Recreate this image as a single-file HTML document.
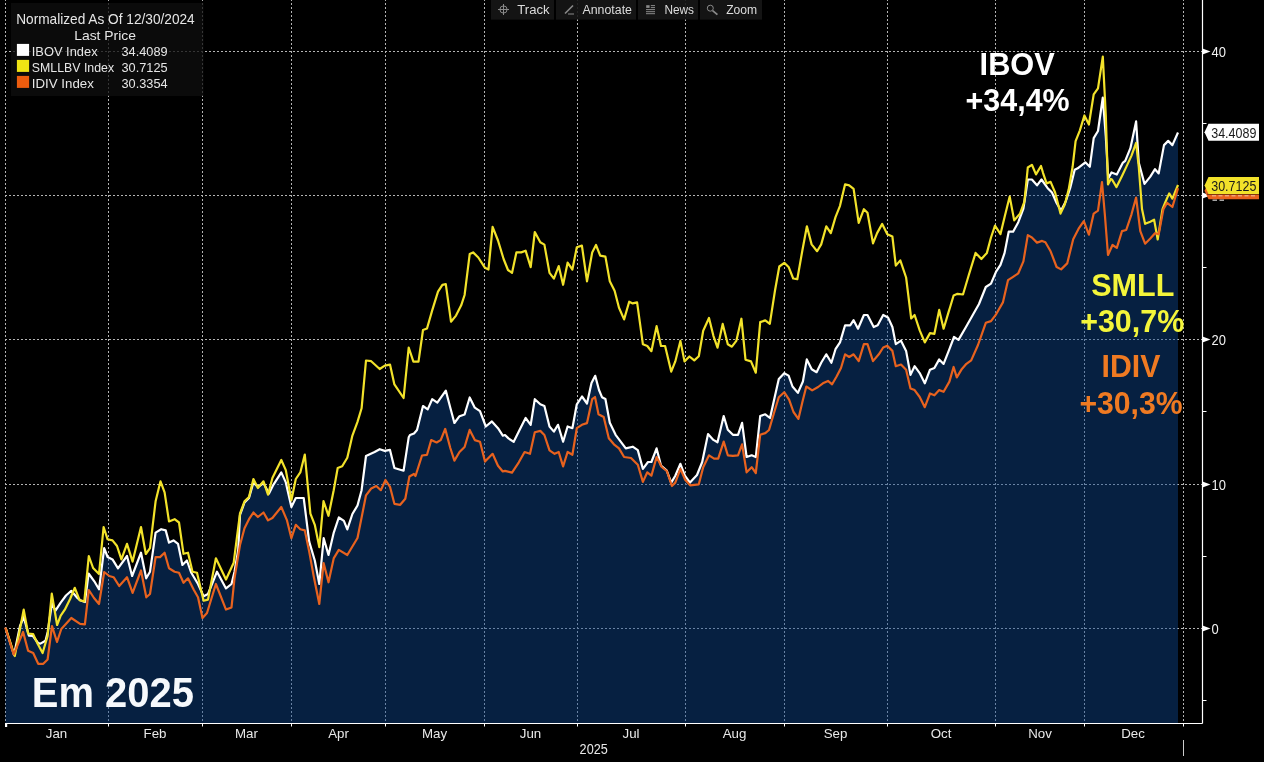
<!DOCTYPE html>
<html><head><meta charset="utf-8"><title>IBOV SMLL IDIV 2025</title>
<style>html,body{margin:0;padding:0;background:#000;width:1264px;height:762px;overflow:hidden}svg{display:block;will-change:transform}</style>
</head><body>
<svg width="1264" height="762" viewBox="0 0 1264 762"><rect width="1264" height="762" fill="#000"/><line x1="5" y1="51.5" x2="1202.5" y2="51.5" stroke="#b4b4b4" stroke-width="1" stroke-dasharray="2 2"/><line x1="5" y1="195.5" x2="1202.5" y2="195.5" stroke="#b4b4b4" stroke-width="1" stroke-dasharray="2 2"/><line x1="5" y1="339.5" x2="1202.5" y2="339.5" stroke="#b4b4b4" stroke-width="1" stroke-dasharray="2 2"/><line x1="5" y1="484.5" x2="1202.5" y2="484.5" stroke="#b4b4b4" stroke-width="1" stroke-dasharray="2 2"/><line x1="5" y1="628.5" x2="1202.5" y2="628.5" stroke="#b4b4b4" stroke-width="1" stroke-dasharray="2 2"/><line x1="5.5" y1="-1" x2="5.5" y2="723" stroke="#b4b4b4" stroke-width="1" stroke-dasharray="2 2"/><line x1="108.5" y1="-1" x2="108.5" y2="723" stroke="#b4b4b4" stroke-width="1" stroke-dasharray="2 2"/><line x1="202.5" y1="-1" x2="202.5" y2="723" stroke="#b4b4b4" stroke-width="1" stroke-dasharray="2 2"/><line x1="291.5" y1="-1" x2="291.5" y2="723" stroke="#b4b4b4" stroke-width="1" stroke-dasharray="2 2"/><line x1="385.5" y1="-1" x2="385.5" y2="723" stroke="#b4b4b4" stroke-width="1" stroke-dasharray="2 2"/><line x1="484.5" y1="-1" x2="484.5" y2="723" stroke="#b4b4b4" stroke-width="1" stroke-dasharray="2 2"/><line x1="577.5" y1="-1" x2="577.5" y2="723" stroke="#b4b4b4" stroke-width="1" stroke-dasharray="2 2"/><line x1="685.5" y1="-1" x2="685.5" y2="723" stroke="#b4b4b4" stroke-width="1" stroke-dasharray="2 2"/><line x1="784.5" y1="-1" x2="784.5" y2="723" stroke="#b4b4b4" stroke-width="1" stroke-dasharray="2 2"/><line x1="887.5" y1="-1" x2="887.5" y2="723" stroke="#b4b4b4" stroke-width="1" stroke-dasharray="2 2"/><line x1="995.5" y1="-1" x2="995.5" y2="723" stroke="#b4b4b4" stroke-width="1" stroke-dasharray="2 2"/><line x1="1084.5" y1="-1" x2="1084.5" y2="723" stroke="#b4b4b4" stroke-width="1" stroke-dasharray="2 2"/><line x1="1183.5" y1="-1" x2="1183.5" y2="723" stroke="#b4b4b4" stroke-width="1" stroke-dasharray="2 2"/><polygon points="5.5,627.7 14.0,655.0 20.0,626.0 23.7,617.0 28.9,635.7 33.0,636.0 38.0,643.0 40.4,643.6 45.5,640.7 47.7,632.0 52.0,603.0 55.3,610.8 60.7,602.6 66.0,595.5 71.3,590.8 76.8,597.3 80.1,600.2 84.9,602.0 88.6,573.5 94.3,581.3 99.0,589.3 104.2,548.2 107.6,557.0 112.5,559.4 118.0,568.3 127.0,556.0 132.1,576.0 141.0,552.7 146.2,578.3 150.0,571.7 155.6,532.6 161.2,529.2 165.7,530.4 169.0,542.6 173.5,540.4 178.0,543.8 182.4,565.0 186.9,560.5 191.3,572.8 198.0,584.0 203.6,596.2 208.0,594.0 217.0,571.7 226.0,588.4 231.5,584.0 234.5,571.7 238.2,550.0 240.0,515.0 244.5,502.5 249.0,498.0 253.4,482.4 257.9,487.0 263.5,483.0 269.0,493.6 273.5,484.6 281.3,472.4 285.8,482.4 291.4,507.0 295.8,498.0 303.7,498.0 309.2,541.6 314.8,560.5 319.3,584.0 323.7,538.2 328.5,555.0 333.7,532.8 338.8,517.5 343.9,520.9 347.3,529.4 352.4,514.0 357.5,505.5 361.6,490.2 366.0,456.0 374.6,452.0 379.7,449.2 384.8,450.9 390.0,449.9 394.4,468.0 403.6,470.7 408.7,437.3 410.0,435.0 414.0,433.5 417.0,430.0 423.0,406.0 427.7,409.4 432.2,399.2 437.3,402.6 445.8,390.6 450.3,407.7 454.4,423.0 459.5,416.2 464.6,414.5 469.7,397.5 474.8,407.7 480.0,411.1 485.8,426.5 491.9,421.4 498.0,428.2 502.8,435.7 505.0,435.0 508.5,438.4 513.7,441.8 518.8,431.6 525.6,418.0 530.7,424.8 534.8,399.2 540.3,404.3 544.4,406.0 549.5,426.5 553.9,431.6 558.0,424.8 563.1,441.8 567.6,426.5 572.4,428.2 576.8,404.3 582.0,396.5 587.0,403.5 591.5,383.0 595.2,375.8 599.0,390.0 602.0,397.2 605.4,399.0 609.8,422.8 615.6,434.8 620.7,441.6 625.8,448.4 632.7,446.7 637.8,450.1 642.9,468.9 648.0,462.0 651.4,462.0 656.6,448.4 661.0,465.5 666.8,470.6 671.2,482.6 675.3,475.7 680.4,463.8 684.9,475.7 690.0,482.6 697.0,475.0 702.2,462.0 708.0,434.1 713.4,439.9 717.5,442.3 723.7,416.0 727.8,429.7 732.9,434.8 738.0,434.8 742.1,422.8 746.6,457.0 751.7,455.3 755.8,457.0 760.2,416.0 765.3,414.3 770.0,418.0 774.5,398.0 778.8,379.0 784.2,373.2 788.6,375.6 792.5,386.5 797.9,392.9 802.9,381.5 806.8,359.4 811.7,369.3 816.6,372.2 821.2,362.8 826.3,354.3 831.4,362.8 835.5,349.2 840.0,342.4 845.1,325.3 850.2,325.3 853.6,320.2 858.0,328.7 863.9,315.0 867.5,315.0 873.7,327.0 877.7,325.3 883.2,315.0 888.0,317.4 892.4,327.0 895.8,344.1 901.0,340.7 906.1,350.9 910.5,374.8 914.6,366.2 919.7,373.1 924.8,383.3 930.0,369.7 934.4,368.0 939.2,359.4 943.6,363.9 949.4,349.2 954.0,337.0 958.5,339.9 965.4,328.0 972.2,316.0 979.0,304.0 985.8,287.0 991.0,283.6 996.1,271.6 1000.5,264.8 1004.6,252.9 1008.7,231.7 1013.1,231.7 1018.3,222.2 1023.4,208.5 1027.8,179.5 1031.9,179.5 1037.0,185.3 1041.5,179.5 1047.5,187.9 1052.0,192.5 1056.6,203.0 1061.1,210.6 1065.7,201.5 1070.2,187.9 1074.7,169.8 1077.7,168.3 1085.3,162.3 1089.8,166.8 1093.7,138.1 1098.0,131.0 1102.8,97.5 1105.8,136.6 1108.2,178.5 1111.5,172.4 1116.8,174.5 1122.7,162.9 1125.2,160.8 1130.4,148.2 1136.1,121.4 1138.8,162.9 1144.5,183.9 1150.3,176.6 1155.0,169.2 1158.7,173.4 1164.0,145.1 1168.2,140.9 1172.4,145.1 1178.0,132.5 1178.0,723 5.5,723" fill="rgb(13,71,144)" fill-opacity="0.45"/><polyline points="5.5,627.7 14.0,655.0 20.0,626.0 23.7,617.0 28.9,635.7 33.0,636.0 38.0,643.0 40.4,643.6 45.5,640.7 47.7,632.0 52.0,603.0 55.3,610.8 60.7,602.6 66.0,595.5 71.3,590.8 76.8,597.3 80.1,600.2 84.9,602.0 88.6,573.5 94.3,581.3 99.0,589.3 104.2,548.2 107.6,557.0 112.5,559.4 118.0,568.3 127.0,556.0 132.1,576.0 141.0,552.7 146.2,578.3 150.0,571.7 155.6,532.6 161.2,529.2 165.7,530.4 169.0,542.6 173.5,540.4 178.0,543.8 182.4,565.0 186.9,560.5 191.3,572.8 198.0,584.0 203.6,596.2 208.0,594.0 217.0,571.7 226.0,588.4 231.5,584.0 234.5,571.7 238.2,550.0 240.0,515.0 244.5,502.5 249.0,498.0 253.4,482.4 257.9,487.0 263.5,483.0 269.0,493.6 273.5,484.6 281.3,472.4 285.8,482.4 291.4,507.0 295.8,498.0 303.7,498.0 309.2,541.6 314.8,560.5 319.3,584.0 323.7,538.2 328.5,555.0 333.7,532.8 338.8,517.5 343.9,520.9 347.3,529.4 352.4,514.0 357.5,505.5 361.6,490.2 366.0,456.0 374.6,452.0 379.7,449.2 384.8,450.9 390.0,449.9 394.4,468.0 403.6,470.7 408.7,437.3 410.0,435.0 414.0,433.5 417.0,430.0 423.0,406.0 427.7,409.4 432.2,399.2 437.3,402.6 445.8,390.6 450.3,407.7 454.4,423.0 459.5,416.2 464.6,414.5 469.7,397.5 474.8,407.7 480.0,411.1 485.8,426.5 491.9,421.4 498.0,428.2 502.8,435.7 505.0,435.0 508.5,438.4 513.7,441.8 518.8,431.6 525.6,418.0 530.7,424.8 534.8,399.2 540.3,404.3 544.4,406.0 549.5,426.5 553.9,431.6 558.0,424.8 563.1,441.8 567.6,426.5 572.4,428.2 576.8,404.3 582.0,396.5 587.0,403.5 591.5,383.0 595.2,375.8 599.0,390.0 602.0,397.2 605.4,399.0 609.8,422.8 615.6,434.8 620.7,441.6 625.8,448.4 632.7,446.7 637.8,450.1 642.9,468.9 648.0,462.0 651.4,462.0 656.6,448.4 661.0,465.5 666.8,470.6 671.2,482.6 675.3,475.7 680.4,463.8 684.9,475.7 690.0,482.6 697.0,475.0 702.2,462.0 708.0,434.1 713.4,439.9 717.5,442.3 723.7,416.0 727.8,429.7 732.9,434.8 738.0,434.8 742.1,422.8 746.6,457.0 751.7,455.3 755.8,457.0 760.2,416.0 765.3,414.3 770.0,418.0 774.5,398.0 778.8,379.0 784.2,373.2 788.6,375.6 792.5,386.5 797.9,392.9 802.9,381.5 806.8,359.4 811.7,369.3 816.6,372.2 821.2,362.8 826.3,354.3 831.4,362.8 835.5,349.2 840.0,342.4 845.1,325.3 850.2,325.3 853.6,320.2 858.0,328.7 863.9,315.0 867.5,315.0 873.7,327.0 877.7,325.3 883.2,315.0 888.0,317.4 892.4,327.0 895.8,344.1 901.0,340.7 906.1,350.9 910.5,374.8 914.6,366.2 919.7,373.1 924.8,383.3 930.0,369.7 934.4,368.0 939.2,359.4 943.6,363.9 949.4,349.2 954.0,337.0 958.5,339.9 965.4,328.0 972.2,316.0 979.0,304.0 985.8,287.0 991.0,283.6 996.1,271.6 1000.5,264.8 1004.6,252.9 1008.7,231.7 1013.1,231.7 1018.3,222.2 1023.4,208.5 1027.8,179.5 1031.9,179.5 1037.0,185.3 1041.5,179.5 1047.5,187.9 1052.0,192.5 1056.6,203.0 1061.1,210.6 1065.7,201.5 1070.2,187.9 1074.7,169.8 1077.7,168.3 1085.3,162.3 1089.8,166.8 1093.7,138.1 1098.0,131.0 1102.8,97.5 1105.8,136.6 1108.2,178.5 1111.5,172.4 1116.8,174.5 1122.7,162.9 1125.2,160.8 1130.4,148.2 1136.1,121.4 1138.8,162.9 1144.5,183.9 1150.3,176.6 1155.0,169.2 1158.7,173.4 1164.0,145.1 1168.2,140.9 1172.4,145.1 1178.0,132.5" fill="none" stroke="#ffffff" stroke-width="2.2" stroke-linejoin="round"/><polyline points="5.8,628.5 14.8,656.0 23.7,609.7 28.1,633.5 33.2,634.2 37.5,643.6 42.6,653.0 47.6,636.0 51.8,593.7 57.1,625.0 60.7,615.6 64.8,609.7 70.1,599.0 74.8,587.8 79.6,600.2 84.3,601.4 88.8,556.0 93.1,568.0 99.0,574.0 103.6,527.0 107.6,539.3 112.5,540.4 117.0,546.0 121.4,559.4 127.0,543.8 132.6,561.6 141.0,527.0 145.8,554.0 150.0,548.2 155.6,501.3 160.5,481.3 164.6,492.4 169.0,521.4 174.6,519.2 179.0,522.5 183.5,553.8 188.0,552.7 192.5,571.7 197.0,572.8 203.6,600.7 208.0,599.6 215.9,558.3 226.0,579.5 233.7,562.7 240.0,513.5 244.5,501.4 249.0,497.0 253.4,479.0 257.9,488.0 263.5,481.3 268.0,494.7 272.4,478.0 281.3,460.0 285.8,470.1 291.4,500.3 295.8,479.0 300.3,472.4 304.8,454.5 310.4,513.7 314.8,524.8 319.3,547.1 323.5,501.0 328.5,515.8 333.7,490.2 337.7,468.0 342.2,466.3 347.3,457.7 352.4,435.6 357.5,421.9 361.6,408.3 366.0,360.5 371.2,361.2 379.7,369.0 384.8,365.6 390.0,364.6 394.4,384.4 403.6,398.0 408.7,347.5 413.4,361.6 418.5,361.6 423.0,330.0 427.0,328.5 432.2,310.4 438.0,291.7 442.4,284.8 445.8,284.2 451.0,321.7 456.0,315.6 461.2,305.3 464.6,295.0 469.7,254.1 473.1,252.4 478.3,257.5 485.0,267.8 488.5,269.5 492.6,226.8 498.0,240.5 503.6,259.0 508.0,270.0 512.0,272.9 516.4,252.4 521.2,252.4 525.6,250.7 530.7,267.1 534.8,232.0 540.3,242.2 544.4,244.6 549.5,272.9 553.9,278.7 558.7,266.1 563.1,284.8 567.6,262.7 572.4,269.5 576.8,247.3 581.9,245.6 587.0,281.4 592.2,252.4 596.0,245.0 600.2,255.6 605.4,256.6 609.8,281.2 614.6,290.8 619.0,307.8 624.1,319.4 629.2,301.7 632.7,303.4 637.1,302.4 642.9,344.3 647.3,346.0 651.4,351.2 656.6,326.2 661.0,346.0 665.1,346.0 671.2,371.6 675.3,361.4 680.4,340.9 684.5,361.4 689.4,356.5 694.3,360.4 698.8,356.3 703.2,330.7 709.0,318.0 713.4,335.8 717.5,347.7 722.7,323.9 727.8,344.3 731.9,346.7 736.3,340.9 741.4,318.7 745.5,359.7 751.0,361.4 755.8,372.7 760.2,322.1 765.3,320.4 769.8,323.9 775.0,290.5 779.3,266.5 784.3,262.8 788.8,267.3 793.2,278.5 797.3,279.2 802.4,250.2 806.9,226.3 811.6,244.4 817.1,251.2 821.2,244.4 826.3,226.3 830.8,233.1 835.5,217.1 840.0,205.8 845.1,184.3 849.2,185.4 853.6,188.8 858.7,222.9 863.9,209.2 867.5,212.7 873.0,243.4 877.1,233.1 882.2,223.9 887.3,234.2 892.4,236.6 895.8,265.6 900.3,260.4 906.1,277.5 911.2,318.5 914.6,315.0 919.7,330.4 924.8,342.4 930.0,333.1 934.4,333.8 939.2,309.9 943.6,328.7 948.7,311.6 950.0,307.5 953.6,295.5 957.5,293.8 963.0,294.5 968.8,275.0 975.6,252.9 981.4,259.0 986.9,252.9 991.0,237.5 995.0,225.6 1000.5,234.1 1004.6,217.0 1009.7,196.6 1014.2,220.4 1020.0,213.6 1024.4,201.7 1027.8,167.5 1031.9,164.8 1036.0,174.4 1041.0,166.0 1043.0,172.8 1046.6,183.4 1050.6,181.9 1055.1,192.5 1060.5,213.6 1064.8,204.5 1068.7,189.4 1072.6,166.8 1075.6,141.1 1079.8,130.6 1084.4,115.5 1088.9,124.5 1093.7,94.3 1098.0,88.3 1102.8,56.6 1105.8,115.5 1108.0,184.5 1110.8,179.0 1112.0,179.5 1116.5,187.1 1122.0,176.0 1126.2,167.1 1131.5,155.6 1136.1,143.0 1138.8,167.1 1142.0,209.1 1145.1,223.8 1150.3,221.7 1154.1,219.6 1157.7,239.5 1162.5,209.1 1165.5,201.7 1169.2,193.4 1172.4,198.6 1178.0,185.0" fill="none" stroke="#f2e22a" stroke-width="2.2" stroke-linejoin="round"/><polyline points="5.3,627.5 13.6,654.5 23.1,632.0 28.1,650.8 33.2,653.0 38.2,663.8 43.3,663.8 47.6,659.5 52.0,626.0 57.0,642.0 61.3,629.0 71.3,618.0 80.1,623.8 84.9,624.4 88.8,590.0 94.0,598.0 99.0,604.0 104.2,572.0 109.2,576.0 113.6,577.2 119.2,586.0 127.0,577.2 132.6,592.9 141.0,570.5 146.3,597.3 150.0,594.0 155.6,557.1 160.0,557.1 164.6,552.7 169.0,568.3 174.6,571.7 179.0,572.8 183.5,582.8 188.0,578.3 193.6,589.5 198.0,597.3 202.5,617.9 207.0,613.0 215.9,584.0 226.0,609.6 231.5,607.4 234.5,578.4 240.0,545.0 244.5,528.2 249.0,519.2 253.4,512.5 257.9,517.0 263.5,512.5 268.0,520.4 272.4,518.0 281.3,507.0 287.0,520.4 291.4,538.2 295.8,524.8 300.3,529.3 304.8,530.4 309.2,551.6 313.7,576.2 319.3,604.0 323.6,563.0 328.5,582.3 333.7,558.4 338.8,549.9 347.3,555.0 352.4,546.5 357.5,538.0 361.6,517.5 366.0,495.3 371.2,488.5 376.3,486.0 380.8,490.2 385.5,480.0 390.0,486.8 394.4,503.8 400.2,504.8 405.3,498.7 409.4,476.5 413.9,474.0 415.5,476.0 422.0,455.5 427.0,454.8 431.2,440.1 436.6,442.5 440.7,440.1 445.2,428.9 450.3,448.0 454.4,460.6 459.5,452.0 464.6,447.0 469.7,429.9 474.8,440.1 480.0,441.8 485.0,461.6 492.6,453.8 498.0,465.7 502.8,471.5 505.0,470.9 512.0,472.6 518.8,462.3 524.6,452.0 530.0,453.8 534.8,432.3 540.3,430.9 544.4,435.0 549.5,450.4 554.6,453.8 558.7,452.0 563.1,466.4 567.6,452.0 572.4,454.8 576.8,428.2 581.9,424.8 587.0,423.1 592.2,399.2 595.0,397.0 598.5,414.3 603.7,417.0 608.8,438.2 613.9,444.3 619.0,448.4 624.1,457.0 631.0,458.0 637.8,464.8 642.9,481.9 647.3,472.3 651.4,475.7 656.6,457.0 661.7,467.0 666.8,471.0 671.9,486.0 675.3,482.6 680.4,468.9 685.3,480.0 690.2,485.3 698.8,484.3 703.2,467.2 709.0,455.3 714.1,458.7 718.2,458.7 723.7,441.6 727.8,455.3 732.9,455.9 738.0,455.3 742.1,444.3 746.6,472.3 751.7,467.2 755.8,473.0 760.2,434.8 765.3,433.1 769.0,430.0 774.0,413.0 778.8,397.3 784.2,392.2 789.1,399.7 793.5,412.0 798.4,418.9 802.4,402.0 806.3,386.5 812.2,390.4 818.1,387.0 822.9,383.3 828.0,380.9 832.1,384.3 836.6,376.5 841.0,368.0 845.1,354.3 849.2,357.0 853.6,354.3 858.7,361.1 863.9,344.1 867.5,344.1 873.0,361.1 878.8,354.3 883.2,347.5 887.3,345.8 892.4,350.9 895.8,366.2 901.0,364.5 906.1,369.7 910.5,388.4 914.6,390.1 919.7,397.0 924.8,407.2 930.0,393.5 934.4,395.3 939.2,390.1 943.6,391.8 949.4,381.6 953.6,367.0 956.8,377.4 961.9,368.9 966.4,363.8 971.2,360.4 978.0,345.0 985.8,322.8 991.0,321.1 996.1,314.3 1002.9,302.4 1008.0,280.2 1013.1,276.8 1018.3,273.3 1023.4,261.4 1027.8,235.1 1031.9,237.5 1037.0,242.6 1042.1,240.9 1045.4,242.3 1050.6,251.3 1056.6,267.0 1061.1,269.4 1067.2,263.4 1073.2,239.2 1078.6,228.7 1083.8,221.1 1088.9,234.7 1093.7,213.6 1098.0,210.6 1102.0,182.0 1104.9,215.1 1108.0,255.0 1112.5,245.0 1116.8,247.9 1122.0,231.1 1126.2,230.0 1131.5,214.3 1136.1,197.5 1140.3,231.1 1145.1,243.7 1150.3,238.5 1155.0,233.2 1158.7,234.3 1163.4,209.1 1167.1,202.8 1172.4,207.0 1178.0,188.1" fill="none" stroke="#e8621e" stroke-width="2.2" stroke-linejoin="round"/><line x1="1202.5" y1="0" x2="1202.5" y2="723.5" stroke="#fff" stroke-width="1.2"/><line x1="5" y1="723.5" x2="1202.5" y2="723.5" stroke="#fff" stroke-width="1.2"/><rect x="5" y="723" width="2.2" height="4" fill="#fff"/><line x1="5.5" y1="723" x2="5.5" y2="726.5" stroke="#fff" stroke-width="1"/><line x1="108.5" y1="723" x2="108.5" y2="726.5" stroke="#fff" stroke-width="1"/><line x1="202.5" y1="723" x2="202.5" y2="726.5" stroke="#fff" stroke-width="1"/><line x1="291.5" y1="723" x2="291.5" y2="726.5" stroke="#fff" stroke-width="1"/><line x1="385.5" y1="723" x2="385.5" y2="726.5" stroke="#fff" stroke-width="1"/><line x1="484.5" y1="723" x2="484.5" y2="726.5" stroke="#fff" stroke-width="1"/><line x1="577.5" y1="723" x2="577.5" y2="726.5" stroke="#fff" stroke-width="1"/><line x1="685.5" y1="723" x2="685.5" y2="726.5" stroke="#fff" stroke-width="1"/><line x1="784.5" y1="723" x2="784.5" y2="726.5" stroke="#fff" stroke-width="1"/><line x1="887.5" y1="723" x2="887.5" y2="726.5" stroke="#fff" stroke-width="1"/><line x1="995.5" y1="723" x2="995.5" y2="726.5" stroke="#fff" stroke-width="1"/><line x1="1084.5" y1="723" x2="1084.5" y2="726.5" stroke="#fff" stroke-width="1"/><line x1="1183.5" y1="723" x2="1183.5" y2="726.5" stroke="#fff" stroke-width="1"/><line x1="1183.5" y1="740" x2="1183.5" y2="756" stroke="#ccc" stroke-width="1"/><line x1="1202.5" y1="123.5" x2="1206.5" y2="123.5" stroke="#fff" stroke-width="1"/><line x1="1202.5" y1="267.5" x2="1206.5" y2="267.5" stroke="#fff" stroke-width="1"/><line x1="1202.5" y1="411.5" x2="1206.5" y2="411.5" stroke="#fff" stroke-width="1"/><line x1="1202.5" y1="556.5" x2="1206.5" y2="556.5" stroke="#fff" stroke-width="1"/><line x1="1202.5" y1="700.5" x2="1206.5" y2="700.5" stroke="#fff" stroke-width="1"/><polygon points="1202.5,48.5 1210.5,51.5 1202.5,54.5" fill="#fff"/><text x="1211.6" y="57.1" font-family="Liberation Sans, sans-serif" font-size="14.3" fill="#f0f0f0" textLength="14.4" lengthAdjust="spacingAndGlyphs">40</text><polygon points="1202.5,336.5 1210.5,339.5 1202.5,342.5" fill="#fff"/><text x="1211.6" y="345.1" font-family="Liberation Sans, sans-serif" font-size="14.3" fill="#f0f0f0" textLength="14.4" lengthAdjust="spacingAndGlyphs">20</text><polygon points="1202.5,481.5 1210.5,484.5 1202.5,487.5" fill="#fff"/><text x="1211.6" y="490.1" font-family="Liberation Sans, sans-serif" font-size="14.3" fill="#f0f0f0" textLength="14.4" lengthAdjust="spacingAndGlyphs">10</text><polygon points="1202.5,625.5 1210.5,628.5 1202.5,631.5" fill="#fff"/><text x="1211.6" y="634.1" font-family="Liberation Sans, sans-serif" font-size="14.3" fill="#f0f0f0" textLength="7.2" lengthAdjust="spacingAndGlyphs">0</text><polygon points="1202.5,192.5 1210.5,195.5 1202.5,198.5" fill="#fff"/><polygon points="1204.5,190.85347000000004 1208.5,182.35347000000004 1259,182.35347000000004 1259,199.35347000000004 1208.5,199.35347000000004" fill="#e8621e"/><line x1="1212" y1="195.8" x2="1257" y2="195.8" stroke="#f4c0a0" stroke-width="1" stroke-dasharray="4 2.5"/><line x1="1207" y1="194.3" x2="1259" y2="194.3" stroke="#000" stroke-width="0.8" stroke-opacity="0.7"/><rect x="1212.5" y="199.6" width="4.5" height="1.2" fill="#fff" fill-opacity="0.8"/><rect x="1219.5" y="199.6" width="4.5" height="1.2" fill="#fff" fill-opacity="0.8"/><polygon points="1204.5,185.50437500000004 1208.5,177.00437500000004 1259,177.00437500000004 1259,194.00437500000004 1208.5,194.00437500000004" fill="#f2e22a"/><text x="1211.2" y="191.1" font-family="Liberation Sans, sans-serif" font-size="14.1" fill="#1a1a1a" textLength="45.2" lengthAdjust="spacingAndGlyphs">30.7125</text><polygon points="1204.5,132.291395 1208.5,123.791395 1259,123.791395 1259,140.791395 1208.5,140.791395" fill="#ffffff"/><text x="1211.2" y="137.9" font-family="Liberation Sans, sans-serif" font-size="14.1" fill="#1a1a1a" textLength="45.2" lengthAdjust="spacingAndGlyphs">34.4089</text><text x="56.5" y="737.8" font-family="Liberation Sans, sans-serif" font-size="13.3" fill="#e8e8e8" text-anchor="middle">Jan</text><text x="155" y="737.8" font-family="Liberation Sans, sans-serif" font-size="13.3" fill="#e8e8e8" text-anchor="middle">Feb</text><text x="246.5" y="737.8" font-family="Liberation Sans, sans-serif" font-size="13.3" fill="#e8e8e8" text-anchor="middle">Mar</text><text x="338.5" y="737.8" font-family="Liberation Sans, sans-serif" font-size="13.3" fill="#e8e8e8" text-anchor="middle">Apr</text><text x="434.5" y="737.8" font-family="Liberation Sans, sans-serif" font-size="13.3" fill="#e8e8e8" text-anchor="middle">May</text><text x="530.5" y="737.8" font-family="Liberation Sans, sans-serif" font-size="13.3" fill="#e8e8e8" text-anchor="middle">Jun</text><text x="631" y="737.8" font-family="Liberation Sans, sans-serif" font-size="13.3" fill="#e8e8e8" text-anchor="middle">Jul</text><text x="734.5" y="737.8" font-family="Liberation Sans, sans-serif" font-size="13.3" fill="#e8e8e8" text-anchor="middle">Aug</text><text x="835.5" y="737.8" font-family="Liberation Sans, sans-serif" font-size="13.3" fill="#e8e8e8" text-anchor="middle">Sep</text><text x="941" y="737.8" font-family="Liberation Sans, sans-serif" font-size="13.3" fill="#e8e8e8" text-anchor="middle">Oct</text><text x="1040" y="737.8" font-family="Liberation Sans, sans-serif" font-size="13.3" fill="#e8e8e8" text-anchor="middle">Nov</text><text x="1133" y="737.8" font-family="Liberation Sans, sans-serif" font-size="13.3" fill="#e8e8e8" text-anchor="middle">Dec</text><text x="579.6" y="754" font-family="Liberation Sans, sans-serif" font-size="14.6" fill="#e8e8e8" textLength="28.2" lengthAdjust="spacingAndGlyphs">2025</text><rect x="11" y="3" width="192.5" height="93" fill="#0f0f0f" fill-opacity="0.76"/><text x="16.2" y="23.8" font-family="Liberation Sans, sans-serif" font-size="14.2" fill="#e6e6e6" textLength="178.5" lengthAdjust="spacingAndGlyphs">Normalized As Of 12/30/2024</text><text x="74.2" y="39.8" font-family="Liberation Sans, sans-serif" font-size="13.5" fill="#e6e6e6" textLength="61.8" lengthAdjust="spacingAndGlyphs">Last Price</text><rect x="16.9" y="43.9" width="12.2" height="12" fill="#ffffff"/><text x="31.8" y="55.8" font-family="Liberation Sans, sans-serif" font-size="13" fill="#e6e6e6" textLength="65.8" lengthAdjust="spacingAndGlyphs">IBOV Index</text><text x="121.5" y="55.8" font-family="Liberation Sans, sans-serif" font-size="13" fill="#e6e6e6" textLength="46.1" lengthAdjust="spacingAndGlyphs">34.4089</text><rect x="16.9" y="59.9" width="12.2" height="12" fill="#f0e414"/><text x="31.8" y="71.8" font-family="Liberation Sans, sans-serif" font-size="13" fill="#e6e6e6" textLength="82.3" lengthAdjust="spacingAndGlyphs">SMLLBV Index</text><text x="121.5" y="71.8" font-family="Liberation Sans, sans-serif" font-size="13" fill="#e6e6e6" textLength="46.1" lengthAdjust="spacingAndGlyphs">30.7125</text><rect x="16.9" y="75.9" width="12.2" height="12" fill="#ec5c0e"/><text x="31.8" y="87.8" font-family="Liberation Sans, sans-serif" font-size="13" fill="#e6e6e6" textLength="62.0" lengthAdjust="spacingAndGlyphs">IDIV Index</text><text x="121.5" y="87.8" font-family="Liberation Sans, sans-serif" font-size="13" fill="#e6e6e6" textLength="46.1" lengthAdjust="spacingAndGlyphs">30.3354</text><rect x="491" y="0" width="63" height="19.6" fill="#161616" fill-opacity="0.9"/><text x="517.3" y="13.7" font-family="Liberation Sans, sans-serif" font-size="12.5" fill="#dcdcdc" textLength="32.3" lengthAdjust="spacingAndGlyphs">Track</text><rect x="556" y="0" width="80" height="19.6" fill="#161616" fill-opacity="0.9"/><text x="582.5" y="13.7" font-family="Liberation Sans, sans-serif" font-size="12.5" fill="#dcdcdc" textLength="49.5" lengthAdjust="spacingAndGlyphs">Annotate</text><rect x="638" y="0" width="60" height="19.6" fill="#161616" fill-opacity="0.9"/><text x="664.4" y="13.7" font-family="Liberation Sans, sans-serif" font-size="12.5" fill="#dcdcdc" textLength="29.6" lengthAdjust="spacingAndGlyphs">News</text><rect x="700" y="0" width="62" height="19.6" fill="#161616" fill-opacity="0.9"/><text x="726.2" y="13.7" font-family="Liberation Sans, sans-serif" font-size="12.5" fill="#dcdcdc" textLength="31" lengthAdjust="spacingAndGlyphs">Zoom</text><g stroke="#8a8a8a" stroke-width="1" fill="none"><circle cx="503.5" cy="9.5" r="3.6"/><line x1="498" y1="9.5" x2="509" y2="9.5"/><line x1="503.5" y1="4" x2="503.5" y2="15"/><line x1="565" y1="13.5" x2="573" y2="5.5" stroke-width="1.6"/><line x1="568" y1="14" x2="574" y2="14"/><rect x="646.2" y="5.2" width="3.4" height="2.7" fill="#8a8a8a" stroke="none"/><line x1="650.8" y1="5.6" x2="655" y2="5.6"/><line x1="650.8" y1="7.6" x2="655" y2="7.6"/><line x1="646" y1="9.6" x2="655" y2="9.6"/><line x1="646" y1="11.7" x2="655" y2="11.7"/><line x1="646" y1="13.7" x2="655" y2="13.7"/><circle cx="710.3" cy="8.2" r="3"/><line x1="712.6" y1="10.6" x2="717.4" y2="14.6" stroke-width="1.8"/></g><text x="979.6" y="74.8" font-family="Liberation Sans, sans-serif" font-weight="bold" font-size="31.5" fill="#ffffff" textLength="75.1" lengthAdjust="spacingAndGlyphs">IBOV</text><text x="965.6" y="110.8" font-family="Liberation Sans, sans-serif" font-weight="bold" font-size="31" fill="#ffffff" textLength="104" lengthAdjust="spacingAndGlyphs">+34,4%</text><text x="1091.2" y="296.4" font-family="Liberation Sans, sans-serif" font-weight="bold" font-size="32" fill="#f4f53a" textLength="83.1" lengthAdjust="spacingAndGlyphs">SMLL</text><text x="1080.2" y="332.4" font-family="Liberation Sans, sans-serif" font-weight="bold" font-size="31" fill="#f4f53a" textLength="104" lengthAdjust="spacingAndGlyphs">+30,7%</text><text x="1101.5" y="377.3" font-family="Liberation Sans, sans-serif" font-weight="bold" font-size="31.8" fill="#ef7a22" textLength="58.9" lengthAdjust="spacingAndGlyphs">IDIV</text><text x="1079.4" y="413.6" font-family="Liberation Sans, sans-serif" font-weight="bold" font-size="31" fill="#ef7a22" textLength="103.2" lengthAdjust="spacingAndGlyphs">+30,3%</text><text x="31.8" y="706.6" font-family="Liberation Sans, sans-serif" font-weight="bold" font-size="42" fill="#f6f9fc" textLength="162.2" lengthAdjust="spacingAndGlyphs">Em 2025</text></svg>
</body></html>
